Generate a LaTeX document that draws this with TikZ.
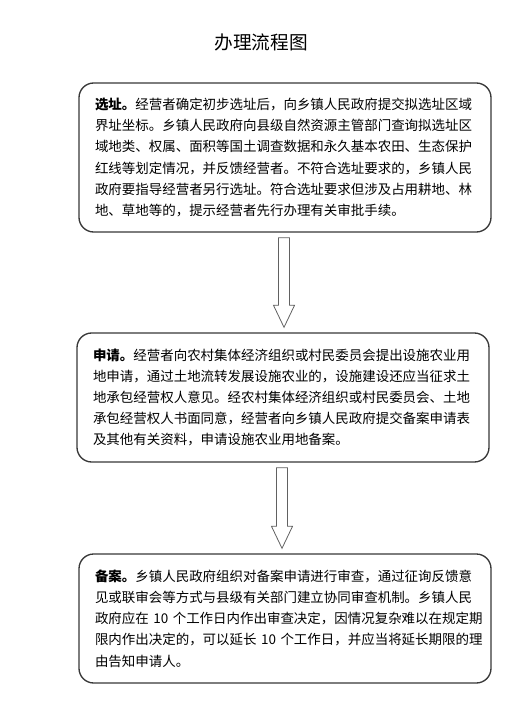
\documentclass[tikz,border=0pt]{standalone}
\usepackage{fontspec}
\newfontfamily\cjk{Noto Sans CJK SC}
\usetikzlibrary{calc}

\tikzset{
  stagebox/.style={draw=black!78, line width=1pt, rounded corners=11pt,
    minimum width=309pt, text width=285pt, align=left, inner sep=0pt,
    font=\cjk\fontsize{10.1}{15.9}\selectfont},
  hollowarrow/.style={draw=black!62, line width=0.6pt, fill=white}
}
% hollow block arrow from one box down to the next
\newcommand{\flowarrow}[2]{%
  \coordinate (top) at ($(#1.south)+(-1,5)$);
  \coordinate (tip) at ($(#1.south |- #2.north)+(-1,-5)$);
  \draw[hollowarrow] ($(top)+(-5.5,0)$) -- ($(tip)+(-5.5,-22)$) -- ($(tip)+(-10.5,-22)$)
    -- (tip) -- ($(tip)+(10.5,-22)$) -- ($(tip)+(5.5,-22)$) -- ($(top)+(5.5,0)$) -- cycle;}

\begin{document}
\begin{tikzpicture}[x=0.75pt, y=-0.75pt]
\useasboundingbox (0,0) rectangle (526,712);
\node[font=\cjk\fontsize{14}{16}\selectfont] (title) at (261,42) {办理流程图};

\node[stagebox, minimum height=111.75pt] (select) at (285,157.5) {%
\textbf{选址。}经营者确定初步选址后，向乡镇人民政府提交拟选址区域\\
界址坐标。乡镇人民政府向县级自然资源主管部门查询拟选址区\\
域地类、权属、面积等国土调查数据和永久基本农田、生态保护\\
红线等划定情况，并反馈经营者。不符合选址要求的，乡镇人民\\
政府要指导经营者另行选址。符合选址要求但涉及占用耕地、林\\
地、草地等的，提示经营者先行办理有关审批手续。};

\node[stagebox, minimum height=96.75pt] (apply) at (283,397.5) {%
\textbf{申请。}经营者向农村集体经济组织或村民委员会提出设施农业用\\
地申请，通过土地流转发展设施农业的，设施建设还应当征求土\\
地承包经营权人意见。经农村集体经济组织或村民委员会、土地\\
承包经营权人书面同意，经营者向乡镇人民政府提交备案申请表\\
及其他有关资料，申请设施农业用地备案。};

\node[stagebox, minimum height=96.75pt] (record) at (285,618.5) {%
\textbf{备案。}乡镇人民政府组织对备案申请进行审查，通过征询反馈意\\
见或联审会等方式与县级有关部门建立协同审查机制。乡镇人民\\
\mbox{政府应在 10 个工作日内作出审查决定，因情况复杂难以在规定期}\\
\mbox{限内作出决定的，可以延长 10 个工作日，并应当将延长期限的理}\\
由告知申请人。};

\flowarrow{select}{apply}
\flowarrow{apply}{record}
\end{tikzpicture}
\end{document}
